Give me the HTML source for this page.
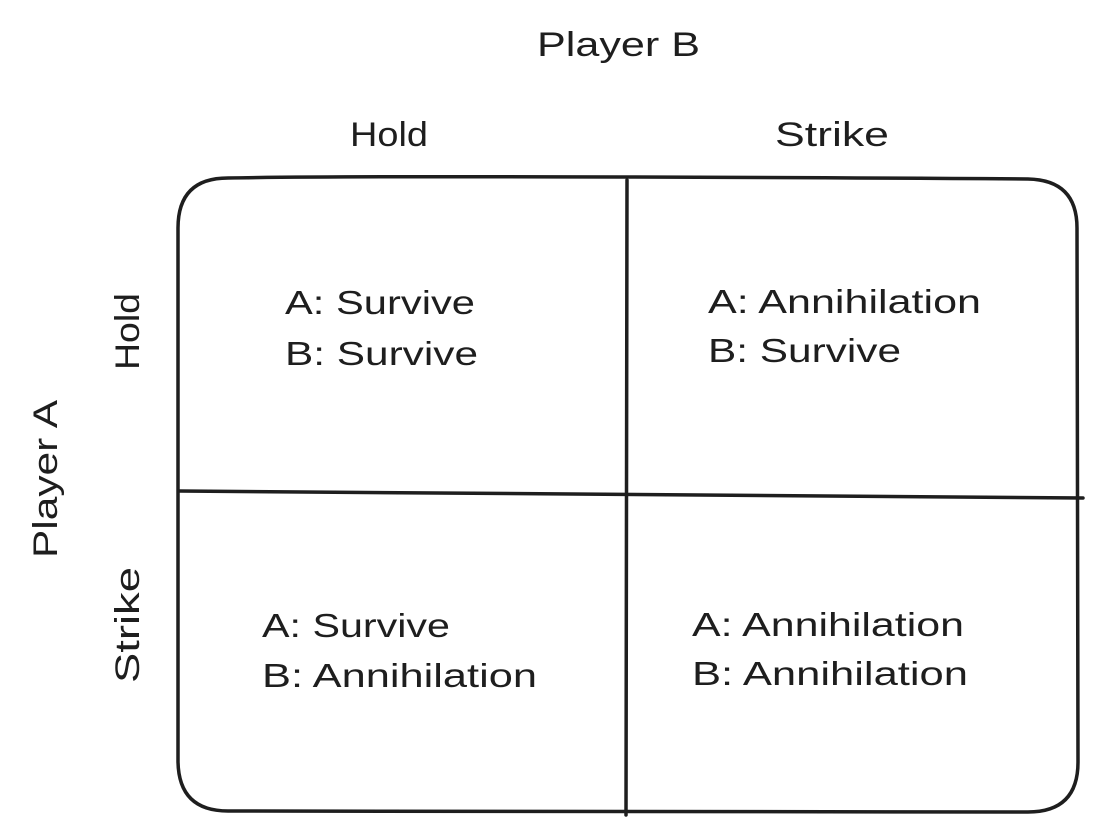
<!DOCTYPE html>
<html><head><meta charset="utf-8"><style>
html,body{margin:0;padding:0;background:#fff;}
body{width:1101px;height:834px;overflow:hidden;position:relative;font-family:"Liberation Sans",sans-serif;color:#1e1e1e;}
svg{position:absolute;left:0;top:0;}
</style></head><body>
<svg width="1101" height="834" viewBox="0 0 1101 834">
<g fill="none" stroke="#1e1e1e" stroke-width="3.5" stroke-linecap="round">
<path d="M228 178 Q400 175 1028 179 Q1077 180 1077 228 L1078 762 Q1078 812 1028 812 L228 811 Q179 811 178 762 L178 228 Q178 178 228 178 Z"/>
<path d="M627 180 L626 815"/>
<path d="M179 491 Q620 493 1083 498"/>
</g>
<g font-family="Liberation Sans, sans-serif" fill="#1e1e1e" font-size="34">
<text x="537" y="56" textLength="163" lengthAdjust="spacingAndGlyphs">Player B</text>
<text x="350" y="146" textLength="78" lengthAdjust="spacingAndGlyphs">Hold</text>
<text x="775" y="146" textLength="114" lengthAdjust="spacingAndGlyphs">Strike</text>
<text transform="translate(57,558) rotate(-90)" textLength="158" lengthAdjust="spacingAndGlyphs">Player A</text>
<text transform="translate(139,370) rotate(-90)" textLength="77" lengthAdjust="spacingAndGlyphs">Hold</text>
<text transform="translate(139,683) rotate(-90)" textLength="116" lengthAdjust="spacingAndGlyphs">Strike</text>
<g font-size="33">
<text x="285" y="314" textLength="190" lengthAdjust="spacingAndGlyphs">A: Survive</text>
<text x="285" y="365" textLength="193" lengthAdjust="spacingAndGlyphs">B: Survive</text>
<text x="708" y="313" textLength="273" lengthAdjust="spacingAndGlyphs">A: Annihilation</text>
<text x="708" y="362" textLength="193" lengthAdjust="spacingAndGlyphs">B: Survive</text>
<text x="262" y="637" textLength="188" lengthAdjust="spacingAndGlyphs">A: Survive</text>
<text x="262" y="687" textLength="275" lengthAdjust="spacingAndGlyphs">B: Annihilation</text>
<text x="692" y="636" textLength="272" lengthAdjust="spacingAndGlyphs">A: Annihilation</text>
<text x="692" y="685" textLength="276" lengthAdjust="spacingAndGlyphs">B: Annihilation</text>
</g>
</g>
</svg>
</body></html>
